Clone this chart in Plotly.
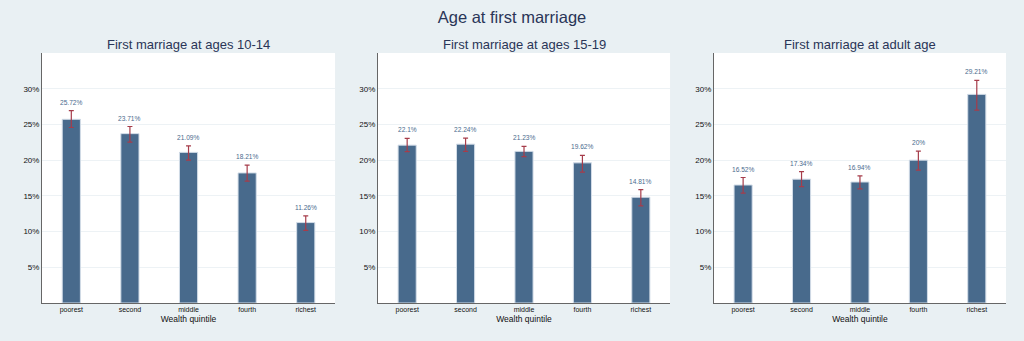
import plotly.graph_objects as go
from plotly.subplots import make_subplots

categories = ["poorest", "second", "middle", "fourth", "richest"]
panel_titles = ["First marriage at ages 10-14", "First marriage at ages 15-19", "First marriage at adult age"]

values_10_14 = [25.72, 23.71, 21.09, 18.21, 11.26]
values_15_19 = [22.1, 22.24, 21.23, 19.62, 14.81]
values_adult = [16.52, 17.34, 16.94, 20.0, 29.21]

err_up_10_14 = [1.2, 1.0, 0.9, 1.1, 0.95]
err_dn_10_14 = [1.15, 1.2, 1.1, 1.15, 1.1]
err_up_15_19 = [0.95, 0.85, 0.7, 1.05, 1.05]
err_dn_15_19 = [0.9, 1.0, 0.75, 1.3, 1.2]
err_up_adult = [1.05, 1.05, 0.85, 1.25, 1.95]
err_dn_adult = [1.15, 1.05, 0.95, 1.4, 2.2]

y_ticks = [5, 10, 15, 20, 25, 30]
y_tick_labels = ["5%", "10%", "15%", "20%", "25%", "30%"]

panels = [
    (values_10_14, err_up_10_14, err_dn_10_14),
    (values_15_19, err_up_15_19, err_dn_15_19),
    (values_adult, err_up_adult, err_dn_adult),
]

FONT = "Liberation Sans, Arial, Helvetica, sans-serif"
BAR = "#486a8c"
ERR = "#a63c4a"
BG = "#e9f0f3"
TITLE_C = "#2a3557"

fig = make_subplots(rows=1, cols=3, horizontal_spacing=0.045)
domains = [[0.0, 0.304], [0.3485, 0.6515], [0.697, 1.0]]

for i, (vals, eu, ed) in enumerate(panels):
    col = i + 1
    fig.add_trace(
        go.Bar(
            x=categories, y=vals, width=0.31,
            marker=dict(color=BAR, line=dict(color="#d3dde8", width=1)),
            error_y=dict(type="data", symmetric=False, array=eu, arrayminus=ed,
                         color=ERR, thickness=1.2, width=2.5),
            showlegend=False,
        ),
        row=1, col=col,
    )
    xa = "x" if i == 0 else f"x{col}"
    ya = "y" if i == 0 else f"y{col}"
    for c, v, u in zip(categories, vals, eu):
        fig.add_annotation(
            x=c, y=v + u, xref=xa, yref=ya, text=f"{v:g}%", showarrow=False,
            yanchor="bottom", yshift=3,
            font=dict(family=FONT, size=6.6, color="#4a6b8e"),
        )
    fig.add_annotation(
        x=sum(domains[i]) / 2, y=1, xref="paper", yref="paper", text=panel_titles[i],
        showarrow=False, xanchor="center", yanchor="middle", yshift=9,
        font=dict(family=FONT, size=13, color=TITLE_C),
    )
    fig.update_xaxes(
        domain=domains[i], showline=True, linecolor="#666666", linewidth=1,
        ticks="", tickfont=dict(family=FONT, size=7, color="#111111"),
        title=dict(text="Wealth quintile", font=dict(family=FONT, size=8.5, color="#111111"), standoff=2),
        showgrid=False, row=1, col=col,
    )
    fig.update_yaxes(
        range=[0, 35], tickvals=y_ticks, ticktext=y_tick_labels,
        showline=True, linecolor="#666666", linewidth=1, ticks="",
        tickfont=dict(family=FONT, size=8, color="#111111"),
        showgrid=True, gridcolor="#edf2f5", gridwidth=1, zeroline=False,
        row=1, col=col,
    )

fig.update_layout(
    width=1024, height=341,
    paper_bgcolor=BG, plot_bgcolor="white",
    margin=dict(l=42, r=18, t=53, b=38),
    title=dict(text="Age at first marriage", x=0.5, xanchor="center",
               y=1 - 17.7 / 341, yanchor="middle",
               font=dict(family=FONT, size=16.5, color=TITLE_C)),
    bargap=0.69,
)

fig.write_html("out.html")
